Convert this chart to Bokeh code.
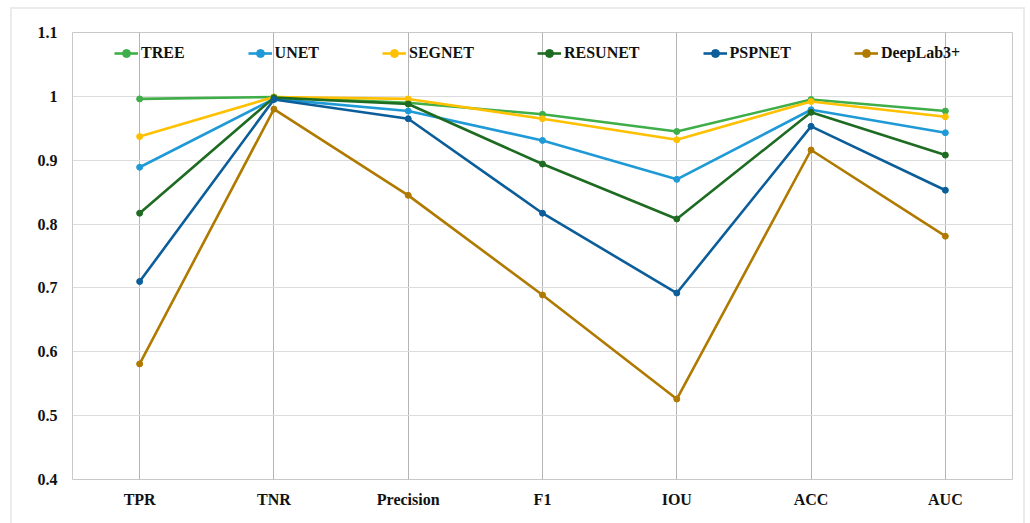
from bokeh.plotting import figure
from bokeh.models import Legend, LegendItem, FixedTicker, Range1d
from bokeh.embed import file_html
from bokeh.resources import INLINE

categories = ["TPR", "TNR", "Precision", "F1", "IOU", "ACC", "AUC"]
series_names = ["TREE", "UNET", "SEGNET", "RESUNET", "PSPNET", "DeepLab3+"]
tree = [0.996, 0.999, 0.990, 0.972, 0.945, 0.995, 0.977]
unet = [0.889, 0.996, 0.977, 0.931, 0.870, 0.979, 0.943]
segnet = [0.937, 0.999, 0.996, 0.965, 0.932, 0.992, 0.968]
resunet = [0.817, 0.998, 0.988, 0.894, 0.808, 0.975, 0.908]
pspnet = [0.710, 0.995, 0.965, 0.817, 0.692, 0.953, 0.853]
deeplab = [0.581, 0.980, 0.845, 0.689, 0.526, 0.916, 0.781]
colors = ["#3fae49", "#1f9ad6", "#ffc000", "#1e6b22", "#0b5e99", "#b07a00"]
y_ticks = [0.4, 0.5, 0.6, 0.7, 0.8, 0.9, 1.0, 1.1]
y_tick_labels = ["0.4", "0.5", "0.6", "0.7", "0.8", "0.9", "1", "1.1"]

FONT = "'Liberation Serif', 'Times New Roman', serif"

p = figure(width=1011, height=514, output_backend="svg", toolbar_location=None,
           x_range=Range1d(-0.5, len(categories) - 0.5), y_range=Range1d(0.4, 1.1),
           min_border_left=60, min_border_right=11, min_border_top=23, min_border_bottom=44,
           margin=(9, 0, 0, 12))
p.styles = {"outline": "2px solid #ebebeb"}

p.outline_line_color = "#c8c8c8"
p.outline_line_width = 1
p.background_fill_color = "white"
p.border_fill_color = "white"

# axes
p.xaxis.ticker = FixedTicker(ticks=list(range(len(categories))))
p.xaxis.major_label_overrides = {i: c for i, c in enumerate(categories)}
p.yaxis.ticker = FixedTicker(ticks=y_ticks)
p.yaxis.major_label_overrides = {t: l for t, l in zip(y_ticks, y_tick_labels)}
for ax in (p.xaxis[0], p.yaxis[0]):
    ax.axis_line_color = None
    ax.major_tick_line_color = None
    ax.minor_tick_line_color = None
    ax.major_tick_out = 0
    ax.major_tick_in = 0
    ax.major_label_text_font = FONT
    ax.major_label_text_font_style = "bold"
    ax.major_label_text_font_size = "16px"
    ax.major_label_text_color = "#111111"
p.xaxis.major_label_standoff = 11
p.yaxis.major_label_standoff = 15

p.xgrid.grid_line_color = "#b4b4b4"
p.xgrid.grid_line_width = 1
p.ygrid.grid_line_color = "#dcdcdc"
p.ygrid.grid_line_width = 1
p.xgrid.ticker = FixedTicker(ticks=list(range(len(categories))))
p.ygrid.ticker = FixedTicker(ticks=y_ticks)

xs = list(range(len(categories)))
data = [tree, unet, segnet, resunet, pspnet, deeplab]
items = []
for name, vals, col in zip(series_names, data, colors):
    r1 = p.line(xs, vals, line_color=col, line_width=2.6)
    r2 = p.scatter(xs, vals, marker="circle", size=6, fill_color=col, line_color=col)
    items.append(LegendItem(label=name, renderers=[r1, r2]))

legend = Legend(items=items, orientation="horizontal", location=(42, 416),
                spacing=63, glyph_width=24, glyph_height=20, label_standoff=3,
                label_text_font=FONT, label_text_font_style="bold",
                label_text_font_size="16px", label_text_color="#111111",
                border_line_color=None, background_fill_alpha=0,
                padding=0, margin=0)
p.add_layout(legend)

open("out.html", "w").write(file_html(p, INLINE))
